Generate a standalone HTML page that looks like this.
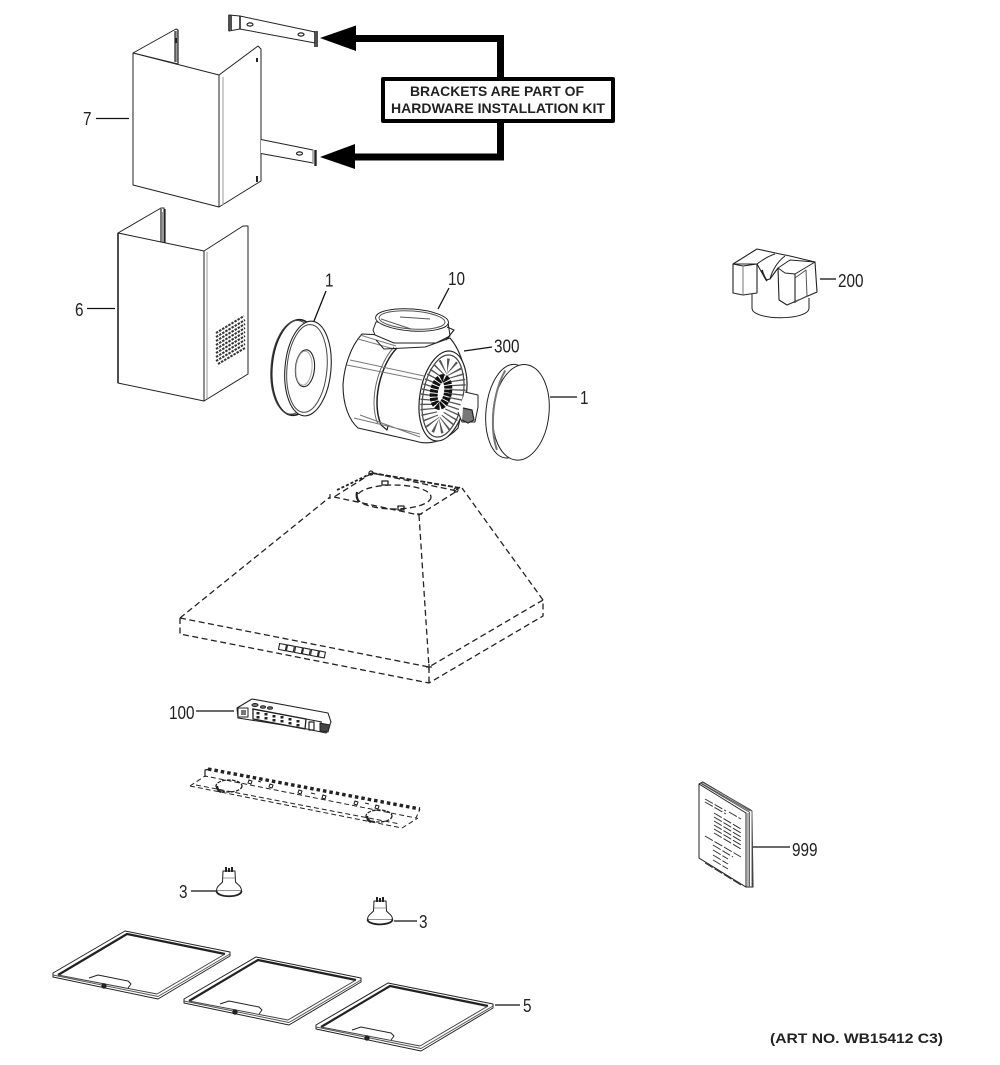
<!DOCTYPE html>
<html><head><meta charset="utf-8"><style>
html,body{margin:0;padding:0;background:#fff}
svg{display:block}
text{font-family:"Liberation Sans",sans-serif;fill:#222;stroke:none}
</style></head><body>
<svg width="1000" height="1065" viewBox="0 0 1000 1065" xmlns="http://www.w3.org/2000/svg" fill="none" stroke="#222" stroke-width="1" stroke-linejoin="round">
<defs>
<g id="filter">
<path d="M53 973 L125 931 L230 952 V956 L158 999 L53 977 Z" fill="#fff"/>
<path d="M58 975 L127 934 L225 954" stroke-width="2.200"/>
<path d="M225 954 L157 994 L58 975" stroke="#444"/>
<path d="M53 975 L158 996.500 L230 954" stroke="#555"/>
<path d="M89 978 L98 975 L128 981 L131 984 L128 988" fill="#fff"/>
<circle cx="104" cy="986" r="2.200" fill="#222"/>
</g>
</defs>

<!-- Chimney 7 -->
<path d="M133 53 L176 29 L178 30 L178 64 Z" fill="#fff"/>
<path d="M175 31V62M178 30V63" stroke-width="1.200"/>
<path d="M176.500 31V62" stroke="#999" stroke-width="2"/>
<path d="M176 38v5" stroke-width="2"/>
<path d="M133 53 L219 75 L219 207 L133 185 Z" fill="#fff"/>
<path d="M219 75 L258 46 L261 49 L261 181 L219 207 Z" fill="#fff"/>
<path d="M223 77V205" stroke="#999"/>
<path d="M257 58v4M257 176v6" stroke-width="2"/>

<!-- Brackets -->
<path d="M229 15 L240 16 L315 32 L315 43 L240 29 L229 31 Z" fill="#fff"/>
<path d="M229 15V31M231 15V30M240 16V29" stroke-width="1.600"/>
<path d="M315 31V47M317 31V47" stroke-width="1.600"/>
<ellipse cx="250" cy="24.500" rx="3" ry="1.600" stroke-width="1.200"/>
<ellipse cx="301" cy="34.500" rx="3" ry="1.600" stroke-width="1.200"/>
<path d="M261 139.500 L313 150 L313 163 L261 153.500" fill="#fff"/>
<path d="M313 150V164" stroke="#999" stroke-width="1.500"/>
<path d="M315.500 150V166" stroke-width="2.400"/>
<ellipse cx="299.500" cy="153.500" rx="3" ry="1.600" stroke-width="1.200"/>

<!-- Arrows -->
<path d="M500.500 78V38.500H350M500.500 122V157H350" stroke="#000" stroke-width="7" stroke-linejoin="miter"/>
<polygon points="320,38 356,25.500 356,51" fill="#000" stroke="none"/>
<polygon points="320,157 355,144 355,169" fill="#000" stroke="none"/>
<rect x="383" y="79" width="230" height="42" fill="#fff" stroke="#000" stroke-width="4"/>
<text x="497" y="96" text-anchor="middle" font-size="14" font-weight="bold" textLength="174" lengthAdjust="spacingAndGlyphs">BRACKETS ARE PART OF</text>
<text x="498" y="113" text-anchor="middle" font-size="14" font-weight="bold" textLength="214" lengthAdjust="spacingAndGlyphs">HARDWARE INSTALLATION KIT</text>

<!-- Chimney 6 -->
<path d="M118 233 L161 208 L164 208 L164 243 Z" fill="#fff"/>
<path d="M161 209V242M165 209V243" stroke-width="1.200"/>
<path d="M163 212V242" stroke="#999" stroke-width="2"/>
<path d="M118 233 L204 251 L204 401 L118 383 Z" fill="#fff"/>
<path d="M118 233V383" stroke-width="1.600"/>
<path d="M204 251 L243 226 L248 226 L248 374 L204 401 Z" fill="#fff"/>
<path d="M207 252V399" stroke="#999"/>
<g stroke-width="2" stroke-dasharray="2.500 1.100" stroke="#333">
<path d="M216 333 L244 316"/><path d="M216 337 L245 320"/><path d="M216 341 L245 324"/><path d="M216 345 L245 328"/><path d="M216 349 L245 332"/><path d="M216 353 L245 336"/><path d="M216 357 L245 340"/><path d="M216 361 L245 344"/><path d="M218 364 L245 348"/>
</g>

<!-- Ring 1 -->
<g transform="rotate(5 302 368)">
<ellipse cx="296" cy="368" rx="24" ry="48" fill="#fff" stroke-width="1.600"/>
<ellipse cx="294" cy="368" rx="23" ry="47" stroke="#444"/>
<ellipse cx="308" cy="368" rx="23" ry="47.500" fill="#fff" stroke-width="1.100"/>
<ellipse cx="307" cy="368" rx="20" ry="44" stroke="#444"/>
<ellipse cx="305" cy="368" rx="9.500" ry="18.500" stroke-width="1.100"/>
<ellipse cx="304" cy="368" rx="8" ry="17" stroke="#aaa"/>
</g>

<!-- Blower -->
<path d="M362 334 C350 347 344 368 343 385 C343 405 349 420 358 428 L415 441 C430 446 447 440 458 428 L465 397 C468 375 462 352 450 338 Z" fill="#fff" stroke-width="1.100"/>
<path d="M397 348 C385 360 377 383 377 403 C377 412 379 420 381 425" stroke-width="1.500"/>
<path d="M394 347 C382 360 374 383 374 403 C374 412 376 420 378 424" stroke="#666"/>
<path d="M381 425 L387 430 L388 426" stroke-width="1.200"/>
<path d="M347 365 L422 380M350 360 L424 376M360 415 L420 437M354 418 L420 434M360 335 L396 346M358 339 L394 349" stroke="#777"/>
<path d="M376 340 L384 349 L425 347 L450 338"/>
<path d="M376 322 L373 330 L375 335 L394 343 L436 343 L450 336 L448 322 Z" fill="#fff"/>
<ellipse cx="412" cy="320" rx="36.500" ry="11" fill="#fff" transform="rotate(4 412 320)"/>
<ellipse cx="412" cy="320" rx="33" ry="9" transform="rotate(4 412 320)" stroke="#555"/>
<path d="M381 319 L411 329M400 317 L430 319" stroke="#555"/>
<path d="M447 327 L454 330 L446 340" stroke-width="1.200"/>
<ellipse cx="443" cy="396" rx="23" ry="45.500" transform="rotate(10 443 396)" fill="#fff" stroke-width="1.200"/>
<ellipse cx="443" cy="396" rx="20" ry="41.500" transform="rotate(10 443 396)" stroke="#444" stroke-width="1.200"/>
<ellipse cx="443" cy="396" rx="14" ry="30" transform="rotate(10 443 396)" stroke="#555" stroke-width="16" stroke-dasharray="1.300 3.300"/>
<ellipse cx="441" cy="392" rx="7" ry="14" transform="rotate(10 441 392)" stroke="#111" stroke-width="8" stroke-dasharray="3 1"/>
<path d="M465 392 L478 395 L478 407 L475 422 L462 422 L458 412" fill="#fff"/>
<path d="M463 408 L472 410 L474 420 L468 423 L462 420" fill="#777" stroke-width="1.200"/>

<!-- Cover 1 -->
<g transform="rotate(6 518 412)">
<ellipse cx="510" cy="412" rx="24" ry="47" fill="#fff"/>
<ellipse cx="521" cy="412" rx="28" ry="48" fill="#fff"/>
<path d="M501 372 C491 395 491 430 501 452" stroke="#777" stroke-width="2"/>
</g>

<!-- Hood -->
<g stroke-dasharray="6 3.500" stroke-width="1.300">
<path d="M180 618 L330 497"/>
<path d="M543 600 L462 488"/>
<path d="M419 515 L429 667"/>
<path d="M180 618 L429 667 L543 600"/>
<path d="M180 618 V634 L429 683 L543 616 V600"/>
<path d="M429 667 V683"/>
<path d="M334 497 L419 515 L457 491 L372 473 Z"/>
<path d="M337 490 L372 473" stroke-width="1.800" stroke-dasharray="3 2"/>
<path d="M372 473 L460 488" stroke-width="1.800" stroke-dasharray="5 2"/>
<ellipse cx="394" cy="497" rx="37" ry="12"/>
</g>
<path d="M357 492c-1 4 0 7 2 10" stroke-width="2.200"/>
<path d="M429 664v6M426 667h6M330 494v5M417 514h5M456 490l4-3" stroke-width="1.200"/>
<rect x="398" y="506" width="6" height="4" stroke-width="1.300"/>
<rect x="382" y="481" width="6" height="4" stroke-width="1.300"/>
<circle cx="371" cy="473" r="2" stroke-width="1.200"/>
<circle cx="456" cy="490" r="2" stroke-width="1.200"/>
<g stroke-width="1.100" fill="#fff">
<rect x="279" y="644" width="7" height="6" transform="rotate(11 282 647)"/>
<rect x="287" y="645.500" width="7" height="6" transform="rotate(11 290 648)"/>
<rect x="295" y="647" width="7" height="6" transform="rotate(11 298 650)"/>
<rect x="303" y="648.500" width="7" height="6" transform="rotate(11 306 651)"/>
<rect x="311" y="650" width="7" height="6" transform="rotate(11 314 653)"/>
<rect x="319" y="651.500" width="6" height="6" transform="rotate(11 322 654)"/>
</g>

<!-- Control board 100 -->
<path d="M237 708 L252 699 L328 713 L331 722 L326 733 L302 728 L238 718 Z" fill="#fff" stroke-width="1.100"/>
<path d="M252 709 L322 722" stroke-width="1.100"/>
<rect x="238" y="708" width="10" height="9" fill="#fff"/>
<rect x="241" y="710" width="5" height="5" fill="#777" stroke="none"/>
<path d="M253 709 L306 719 L305 729 L253 719Z" stroke-width="1.300"/>
<path d="M258 712v7M266 713v8M274 715v8M282 716v9M290 718v8M298 720v7" stroke="#222" stroke-width="3" stroke-dasharray="2.500 1.500"/>
<ellipse cx="255" cy="705" rx="3" ry="1.500" fill="#777"/>
<ellipse cx="263" cy="707" rx="2.500" ry="1.300" fill="#777"/>
<ellipse cx="270" cy="708" rx="2.500" ry="1.300" fill="#777"/>
<rect x="309" y="722" width="5" height="8" stroke-width="1.200"/>
<path d="M320 723 L330 725 L328 732 L320 731 Z" fill="#444"/>

<!-- Bracket dashed -->
<path d="M208 769 L420 809" stroke-width="3.400" stroke-dasharray="3.500 3"/>
<path d="M205 777 V770 L210 769" stroke-width="1.200"/>
<g stroke-dasharray="5 3" stroke-width="1">
<path d="M190 786 L205 776 L416 818 L420 809"/>
<path d="M190 786 L402 828 L418 818"/>
<path d="M196 785 L400 824"/>
</g>
<g stroke-width="1.300" stroke-dasharray="3.500 1.400">
<ellipse cx="229" cy="786" rx="13" ry="6"/>
<ellipse cx="379" cy="816" rx="13" ry="6"/>
</g>
<path d="M217 786c0 3 2 5 4 6M367 816c0 3 2 5 4 6" stroke-width="2.400"/>
<path d="M249 780l3 1-1 3-3-1zM258 781l3 1M270 784l3 1-1 3-3-1zM299 790l3 1-1 3-3-1zM311 793l4 1M323 795l3 1-1 3-3-1zM355 801l3 1-1 3-3-1zM365 803l4 1M376 805l3 1-1 3-3-1z" stroke-width="1.100"/>

<!-- Bulbs -->
<g fill="#fff">
<path d="M223 871 H235 L235.500 882 C238 885 241.500 886 241.500 891 H216.500 C216.500 886 220 885 222.500 882 Z"/>
<path d="M226 867 V872 M229 868 V872 M232 867 V872" stroke-width="2"/>
<path d="M216.500 891 C217 898 241 898 241.500 891" stroke-width="1.800"/>
<path d="M223 878 H235" stroke="#999"/>
</g>
<g fill="#fff">
<path d="M374 901 H386 L386.500 911 C389 914 392.500 915 392.500 919.500 H367.500 C367.500 915 371 914 373.500 911 Z"/>
<path d="M377 897 V902 M380 898 V902 M383 897 V902" stroke-width="2"/>
<path d="M367.500 919.500 C368 926 392 926 392.500 919.500" stroke-width="1.800"/>
<path d="M374 908 H386" stroke="#999"/>
</g>

<!-- Filters -->
<use href="#filter"/>
<use href="#filter" transform="translate(131 26)"/>
<use href="#filter" transform="translate(263 52)"/>

<!-- Duct 200 -->
<path d="M752 290 V308 C752 321 809 321 809 308 V298" fill="#fff"/>
<path d="M733 264 L757 249 L780 254 L790 256 L815 262 L817 292 L787 305 L779 300 L778 268 L770 279 L766 280 L757 264 Z" fill="#fff" stroke-width="1.100"/>
<path d="M733 264 L743 266 L757 264 V293 L743 295 L733 293 Z" fill="#fff" stroke-width="1.100"/>
<path d="M743 266 V295" stroke="#777"/>
<path d="M757 264 C761 261 768 256 775 254 M770 279 C772 271 777 262 785 256 M778 268 L790 260 L815 262 L795 274 L785 273 L778 268" />
<path d="M795 274 V303" stroke-width="1.100"/>
<path d="M795 278 L806 270 L807 296 L795 302" stroke="#555"/>
<path d="M762 270 C763 274 765 278 767 281" stroke-width="1.600"/>

<!-- Manual 999 -->
<path d="M703 782 L752 811 L753 887 L746 887 L699 858 V784 Z" fill="#fff"/>
<path d="M699 784 L746 813 V887 L699 858 Z" fill="#fff"/>
<path d="M702 782 L751 810 M701 783 L750 811 M700 783 L749 812" stroke="#555"/>
<path d="M748 813 V887 M749.500 812 V887 M752 811 V887" stroke="#666"/>
<g stroke="#333" stroke-dasharray="9 2">
<path d="M705 799 L726 811M705 802 L726 814M729 812 L741 819"/>
<path d="M714 813 L741 829M714 817 L741 833M714 821 L741 837M714 825 L741 841M714 829 L741 845M714 833 L741 849"/>
<path d="M705 836 L741 857"/>
<path d="M713 845 L733 857M713 850 L728 859M713 855 L728 864M713 860 L728 869"/>
<path d="M705 863 L741 885"/>
</g>

<!-- Leaders -->
<g stroke-width="1.300" stroke="#111">
<path d="M96 118.500 H129"/>
<path d="M87 308.500 H115"/>
<path d="M326 291 L314 321"/>
<path d="M449 288 L438 309"/>
<path d="M492 347 L464 351"/>
<path d="M550 397 H577"/>
<path d="M820 279 H836"/>
<path d="M196 711 H234"/>
<path d="M753 847 H790"/>
<path d="M191 891 H216"/>
<path d="M394 921 H417"/>
<path d="M495 1005 H520"/>
</g>

<!-- Labels -->
<g font-size="18">
<text x="83" y="125" textLength="8.500" lengthAdjust="spacingAndGlyphs">7</text>
<text x="75" y="316" textLength="8.500" lengthAdjust="spacingAndGlyphs">6</text>
<text x="325" y="286.500" textLength="8.500" lengthAdjust="spacingAndGlyphs">1</text>
<text x="448" y="285" textLength="17" lengthAdjust="spacingAndGlyphs">10</text>
<text x="494" y="352.500" textLength="25.500" lengthAdjust="spacingAndGlyphs">300</text>
<text x="580" y="404" textLength="8.500" lengthAdjust="spacingAndGlyphs">1</text>
<text x="838" y="287" textLength="25.500" lengthAdjust="spacingAndGlyphs">200</text>
<text x="169" y="719" textLength="25.500" lengthAdjust="spacingAndGlyphs">100</text>
<text x="792" y="856" textLength="25.500" lengthAdjust="spacingAndGlyphs">999</text>
<text x="179" y="898" textLength="8.500" lengthAdjust="spacingAndGlyphs">3</text>
<text x="419" y="928" textLength="8.500" lengthAdjust="spacingAndGlyphs">3</text>
<text x="523" y="1012" textLength="8.500" lengthAdjust="spacingAndGlyphs">5</text>
</g>
<text x="770" y="1043" font-size="14" font-weight="bold" textLength="173" lengthAdjust="spacingAndGlyphs">(ART NO. WB15412 C3)</text>
</svg>
</body></html>
